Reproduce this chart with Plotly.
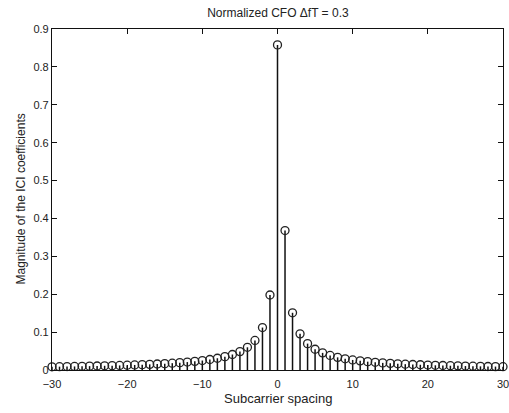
import plotly.graph_objects as go

subcarrier = list(range(-30, 31))
ici_magnitude = [
    0.0085, 0.0088, 0.0091, 0.0094, 0.0098, 0.0102, 0.0106, 0.0111, 0.0115, 0.0121,
    0.0127, 0.0133, 0.0141, 0.0149, 0.0158, 0.0168, 0.0180, 0.0194, 0.0209, 0.0228,
    0.0250, 0.0277, 0.0310, 0.0353, 0.0409, 0.0486, 0.0599, 0.0780, 0.112, 0.198,
    0.858,
    0.368, 0.151, 0.0954, 0.0696, 0.0548, 0.0452, 0.0384, 0.0334, 0.0296, 0.0265,
    0.0241, 0.0220, 0.0203, 0.0188, 0.0175, 0.0164, 0.0154, 0.0145, 0.0138, 0.0131,
    0.0124, 0.0119, 0.0113, 0.0109, 0.0104, 0.0100, 0.0096, 0.0093, 0.0090, 0.0087,
]
x_ticks = [-30, -20, -10, 0, 10, 20, 30]
y_ticks = [0, 0.1, 0.2, 0.3, 0.4, 0.5, 0.6, 0.7, 0.8, 0.9]

fig = go.Figure()
fig.add_trace(go.Scatter(
    x=subcarrier, y=ici_magnitude, mode="markers",
    marker=dict(symbol="circle-open", size=8, color="#222", line=dict(width=1.3)),
    error_y=dict(type="data", symmetric=False, array=[0] * len(ici_magnitude),
                 arrayminus=ici_magnitude, width=0, thickness=1.5, color="#111"),
    showlegend=False, cliponaxis=False, hoverinfo="skip",
))

font = "Liberation Sans, Arial, sans-serif"
axis_common = dict(
    showline=True, linecolor="#111", linewidth=1.2, mirror="ticks",
    ticks="inside", ticklen=5, tickcolor="#111", showgrid=False, zeroline=False,
    automargin=False, ticklabeloverflow="allow",
    tickfont=dict(family=font, size=11, color="#222"),
)
fig.update_layout(
    width=509, height=413,
    margin=dict(l=52, r=6, t=29, b=43),
    paper_bgcolor="white", plot_bgcolor="white",
    title=dict(text="Normalized CFO ΔfT = 0.3", x=0.546, xanchor="center",
               y=0.97, yanchor="middle",
               font=dict(family=font, size=12, color="#222")),
    xaxis=dict(range=[-30, 30], tickvals=x_ticks, ticklabelstandoff=4, **axis_common),
    yaxis=dict(range=[0, 0.9], tickvals=y_ticks,
               ticktext=["0", "0.1", "0.2", "0.3", "0.4", "0.5", "0.6", "0.7", "0.8", "0.9"],
               **axis_common),
    annotations=[
        dict(text="Subcarrier spacing", xref="paper", yref="paper", x=0.5, y=0,
             xanchor="center", yanchor="middle", yshift=-28, showarrow=False,
             font=dict(family=font, size=13, color="#222")),
        dict(text="Magnitude of the ICI coefficients", xref="paper", yref="paper",
             x=0, y=0.5, xanchor="center", yanchor="middle", xshift=-32,
             textangle=-90, showarrow=False,
             font=dict(family=font, size=12, color="#222")),
    ],
)
fig.write_html("out.html", config={"displayModeBar": False},
               post_script="document.body.style.margin='0';document.body.style.padding='0';document.body.style.overflow='hidden';")
